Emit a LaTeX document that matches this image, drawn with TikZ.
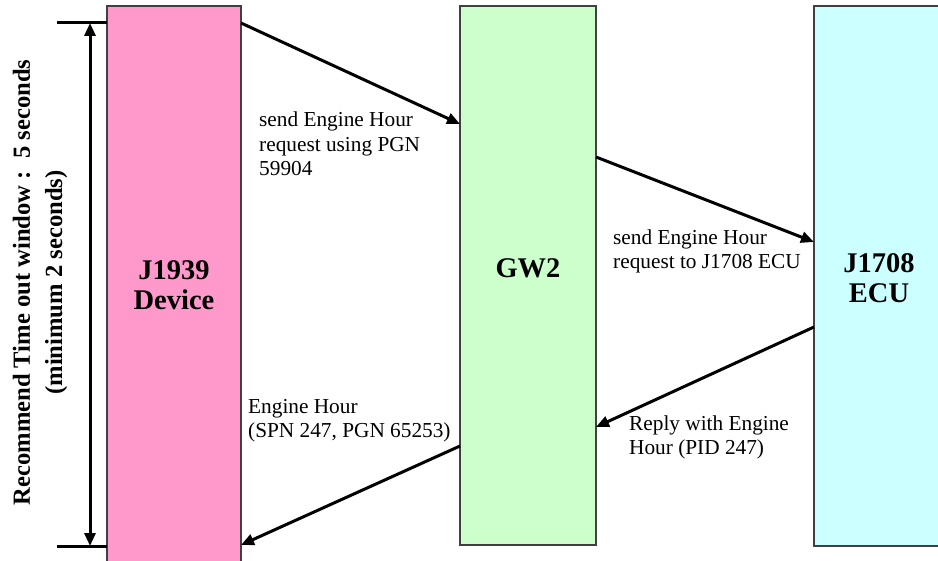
\documentclass[tikz,border=0pt]{standalone}
\usepackage{fontspec}
\setmainfont{Liberation Serif}
\usetikzlibrary{arrows.meta}
\definecolor{pinkfill}{HTML}{FF99CC}
\definecolor{greenfill}{HTML}{CCFFCC}
\definecolor{cyanfill}{HTML}{CCFFFF}
\definecolor{edgegray}{HTML}{404040}
\tikzset{
  lane/.style={draw=edgegray, line width=1.5pt, inner sep=0pt, outer sep=0pt, anchor=north west},
  lanelabel/.style={font=\fontsize{28.5}{30}\selectfont\bfseries, align=center, inner sep=0pt},
  msg/.style={font=\fontsize{21.3}{24.5}\selectfont, align=left, inner sep=0pt, anchor=base west},
  arr/.style={line width=3pt, -{Triangle[length=13pt,width=11pt]}},
  bar/.style={line width=3pt},
  side/.style={font=\fontsize{24.6}{32}\selectfont\bfseries, rotate=90, anchor=base, inner sep=0pt}
}
\begin{document}
\begin{tikzpicture}[x=1pt,y=-1pt]
\useasboundingbox[fill=white] (0,0) rectangle (938,561);
% lanes
\node[lane, fill=pinkfill, minimum width=134pt, minimum height=570pt] (dev) at (107,6) {};
\node[lane, fill=greenfill, minimum width=136pt, minimum height=539pt] (gw) at (460,6) {};
\node[lane, fill=cyanfill, minimum width=140pt, minimum height=540pt] (ecu) at (814,6) {};
% lane labels (anchor base = last line baseline)
\node[lanelabel, anchor=base] (devlab) at (174,310) {J1939\\Device};
\node[lanelabel, anchor=base] (gwlab) at (528,278) {GW2};
\node[lanelabel, anchor=base] (eculab) at (879,303) {J1708\\ECU};
% messages
\draw[arr] ([yshift=-17pt]dev.north east) -- ([yshift=-118pt]gw.north west);
\draw[arr] ([yshift=-151pt]gw.north east) -- ([yshift=-236pt]ecu.north west);
\draw[arr] ([yshift=-321pt]ecu.north west) -- ([yshift=-421pt]gw.north east);
\draw[arr] ([yshift=-440pt]gw.north west) -- ([yshift=-539pt]dev.north east);
% message labels
\node[msg] (m1) at (259,176) {send Engine Hour\\request using PGN\\59904};
\node[msg] (m2) at (613,269) {send Engine Hour\\request to J1708 ECU};
\node[msg] (m3) at (629,455) {Reply with Engine\\Hour (PID 247)};
\node[msg] (m4) at (248,438) {Engine Hour\\(SPN 247, PGN 65253)};
% timeout bracket
\coordinate (tl) at (57,23);
\coordinate (bl) at (57,546);
\coordinate (ta) at (90,23);
\coordinate (ba) at (90,546);
\draw[bar] (tl) -- (tl -| dev.west);
\draw[bar] (bl) -- (bl -| dev.west);
\draw[line width=3pt, {Triangle[length=13pt,width=11pt]}-{Triangle[length=13pt,width=11pt]}] (ta) -- (ba);
\node[side] (t1) at (30,282.5) {Recommend Time out window :\ \ 5 seconds};
\node[side] (t2) at (62,282.5) {(minimum 2 seconds)};
\end{tikzpicture}
\end{document}
